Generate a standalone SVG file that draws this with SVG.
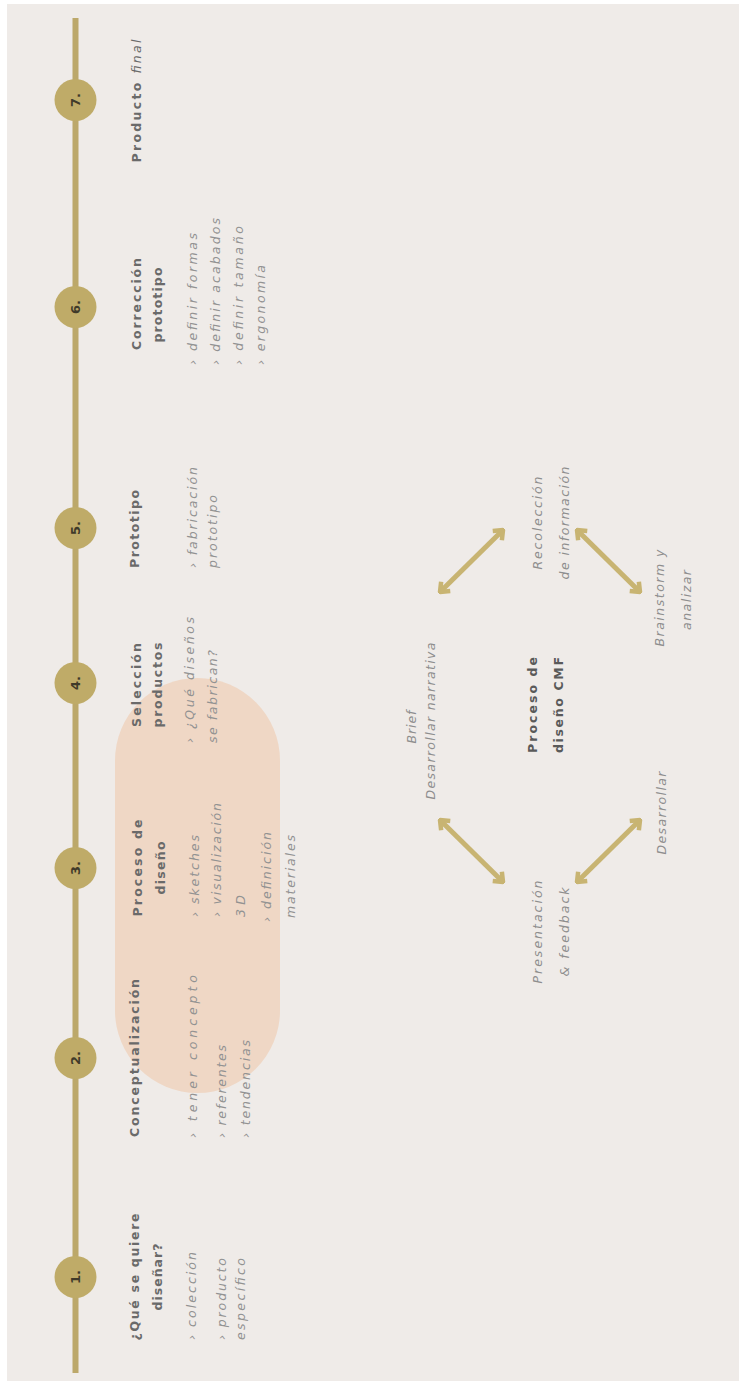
<svg xmlns="http://www.w3.org/2000/svg" width="739" height="1381" viewBox="0 0 739 1381">
  <defs>
    <style>
      .bg { fill: #efebe8; }
      .rail { fill: #bca86a; }
      .dot { fill: #bfab68; }
      .num { font-family: "DejaVu Sans", "Open Sans", sans-serif; font-size: 13px; font-weight: 700; fill: #3f3a2a; text-anchor: middle; }
      .title { font-family: "DejaVu Sans", "Open Sans", sans-serif; font-size: 12.5px; font-weight: 700; fill: #6a6a6a; text-anchor: middle; }
      .item { font-family: "DejaVu Sans", "Open Sans", sans-serif; font-size: 12.5px; font-style: italic; fill: #929292; text-anchor: start; }
      .label { font-family: "DejaVu Sans", "Open Sans", sans-serif; font-size: 12.5px; font-style: italic; fill: #8e8e8e; text-anchor: middle; }
      .core { font-family: "DejaVu Sans", "Open Sans", sans-serif; font-size: 12.5px; font-weight: 700; fill: #5a5a5a; text-anchor: middle; }
      .arrow { stroke: #c8b472; stroke-width: 5; fill: none; }
    </style>
    <marker id="head" viewBox="-12 -9 14 18" refX="0" refY="0" markerWidth="14" markerHeight="18" markerUnits="userSpaceOnUse" orient="auto-start-reverse">
      <path d="M-8,-6.5 L0,0 L-8,6.5" fill="none" stroke="#c8b472" stroke-width="4.5" stroke-linejoin="miter"/>
    </marker>
  </defs>

  <!-- page -->
  <rect x="0" y="0" width="739" height="1381" fill="#ffffff"/>
  <rect class="bg" x="7" y="4" width="732" height="1377"/>

  <!-- highlight band behind steps 2 to 4 -->
  <rect id="highlight" x="115" y="678" width="165" height="415" rx="82.5" ry="82.5" fill="#efd7c5"/>

  <!-- timeline rail -->
  <rect id="timeline" class="rail" x="72.5" y="18" width="6" height="1355"/>

  <!-- step 1 -->
  <g id="step-1">
    <circle class="dot" cx="75.5" cy="1277" r="21"/>
    <text class="num" transform="translate(80,1277) rotate(-90)">1.</text>
    <g transform="translate(0,1277) rotate(-90)">
      <text class="title" x="0" y="139" textLength="127" lengthAdjust="spacing">¿Qué se quiere</text>
      <text class="title" x="0" y="162" textLength="67" lengthAdjust="spacing">diseñar?</text>
      <text class="item" x="-63" y="196" textLength="88" lengthAdjust="spacing">› colección</text>
      <text class="item" x="-63" y="226" textLength="82" lengthAdjust="spacing">› producto</text>
      <text class="item" x="-63" y="245" textLength="82" lengthAdjust="spacing">específico</text>
    </g>
  </g>

  <!-- step 2 -->
  <g id="step-2">
    <circle class="dot" cx="75.5" cy="1058" r="21"/>
    <text class="num" transform="translate(80,1058) rotate(-90)">2.</text>
    <g transform="translate(0,1058) rotate(-90)">
      <text class="title" x="0" y="139" textLength="158" lengthAdjust="spacing">Conceptualización</text>
      <text class="item" x="-80" y="197" textLength="163" lengthAdjust="spacing">› tener concepto</text>
      <text class="item" x="-80" y="226" textLength="93" lengthAdjust="spacing">› referentes</text>
      <text class="item" x="-80" y="250" textLength="98" lengthAdjust="spacing">› tendencias</text>
    </g>
  </g>

  <!-- step 3 -->
  <g id="step-3">
    <circle class="dot" cx="75.5" cy="868" r="21"/>
    <text class="num" transform="translate(80,868) rotate(-90)">3.</text>
    <g transform="translate(0,868) rotate(-90)">
      <text class="title" x="0" y="142" textLength="97" lengthAdjust="spacing">Proceso de</text>
      <text class="title" x="0" y="165" textLength="53" lengthAdjust="spacing">diseño</text>
      <text class="item" x="-49" y="199" textLength="82" lengthAdjust="spacing">› sketches</text>
      <text class="item" x="-49" y="221" textLength="114" lengthAdjust="spacing">› visualización</text>
      <text class="item" x="-49" y="245" textLength="22" lengthAdjust="spacing">3D</text>
      <text class="item" x="-54" y="271" textLength="90" lengthAdjust="spacing">› definición</text>
      <text class="item" x="-50" y="295" textLength="83" lengthAdjust="spacing">materiales</text>
    </g>
  </g>

  <!-- step 4 -->
  <g id="step-4">
    <circle class="dot" cx="75.5" cy="683" r="21"/>
    <text class="num" transform="translate(80,683) rotate(-90)">4.</text>
    <g transform="translate(0,685) rotate(-90)">
      <text class="title" x="0" y="141" textLength="84" lengthAdjust="spacing">Selección</text>
      <text class="title" x="0" y="162" textLength="85" lengthAdjust="spacing">productos</text>
      <text class="item" x="-58" y="194" textLength="126" lengthAdjust="spacing">› ¿Qué diseños</text>
      <text class="item" x="-58" y="217" textLength="93" lengthAdjust="spacing">se fabrican?</text>
    </g>
  </g>

  <!-- step 5 -->
  <g id="step-5">
    <circle class="dot" cx="75.5" cy="528" r="21"/>
    <text class="num" transform="translate(80,528) rotate(-90)">5.</text>
    <g transform="translate(0,529) rotate(-90)">
      <text class="title" x="0" y="139" textLength="78" lengthAdjust="spacing">Prototipo</text>
      <text class="item" x="-39" y="197" textLength="101" lengthAdjust="spacing">› fabricación</text>
      <text class="item" x="-39" y="217" textLength="73" lengthAdjust="spacing">prototipo</text>
    </g>
  </g>

  <!-- step 6 -->
  <g id="step-6">
    <circle class="dot" cx="75.5" cy="307" r="21"/>
    <text class="num" transform="translate(80,307) rotate(-90)">6.</text>
    <g transform="translate(0,304) rotate(-90)">
      <text class="title" x="0" y="141" textLength="92" lengthAdjust="spacing">Corrección</text>
      <text class="title" x="-1" y="162" textLength="75" lengthAdjust="spacing">prototipo</text>
      <text class="item" x="-61" y="197" textLength="132" lengthAdjust="spacing">› definir formas</text>
      <text class="item" x="-61" y="220" textLength="147" lengthAdjust="spacing">› definir acabados</text>
      <text class="item" x="-61" y="243" textLength="139" lengthAdjust="spacing">› definir tamaño</text>
      <text class="item" x="-61" y="265" textLength="100" lengthAdjust="spacing">› ergonomía</text>
    </g>
  </g>

  <!-- step 7 -->
  <g id="step-7">
    <circle class="dot" cx="75.5" cy="100" r="21"/>
    <text class="num" transform="translate(80,100) rotate(-90)">7.</text>
    <g transform="translate(0,101) rotate(-90)">
      <text class="title" x="0" y="141" textLength="123" lengthAdjust="spacing">Producto <tspan font-style="italic" font-weight="400">final</tspan></text>
    </g>
  </g>

  <!-- CMF design cycle -->
  <g id="cmf-center" transform="translate(0,705) rotate(-90)">
    <text class="core" x="0" y="537" textLength="96" lengthAdjust="spacing">Proceso de</text>
    <text class="core" x="0" y="563" textLength="96" lengthAdjust="spacing">diseño CMF</text>
  </g>
  <g id="cmf-brief">
    <text class="label" transform="translate(0,727) rotate(-90)" x="0" y="416" textLength="33" lengthAdjust="spacing">Brief</text>
    <text class="label" transform="translate(0,721) rotate(-90)" x="0" y="435" textLength="157" lengthAdjust="spacing">Desarrollar narrativa</text>
  </g>
  <g id="cmf-recoleccion" transform="translate(0,523) rotate(-90)">
    <text class="label" x="0" y="542" textLength="93" lengthAdjust="spacing">Recolección</text>
    <text class="label" x="0" y="569" textLength="113" lengthAdjust="spacing">de información</text>
  </g>
  <g id="cmf-brainstorm">
    <text class="label" transform="translate(0,598) rotate(-90)" x="0" y="664" textLength="97" lengthAdjust="spacing">Brainstorm y</text>
    <text class="label" transform="translate(0,600) rotate(-90)" x="0" y="691" textLength="60" lengthAdjust="spacing">analizar</text>
  </g>
  <g id="cmf-desarrollar" transform="translate(0,813) rotate(-90)">
    <text class="label" x="0" y="666" textLength="83" lengthAdjust="spacing">Desarrollar</text>
  </g>
  <g id="cmf-presentacion" transform="translate(0,932) rotate(-90)">
    <text class="label" x="0" y="542" textLength="103" lengthAdjust="spacing">Presentación</text>
    <text class="label" x="0" y="569" textLength="89" lengthAdjust="spacing">&amp; feedback</text>
  </g>

  <!-- two-way arrows between the cycle stages -->
  <g id="connectors">
    <path class="arrow" d="M440,592 L503,530" marker-start="url(#head)" marker-end="url(#head)"/>
    <path class="arrow" d="M577,530 L640,592" marker-start="url(#head)" marker-end="url(#head)"/>
    <path class="arrow" d="M440,820 L503,882" marker-start="url(#head)" marker-end="url(#head)"/>
    <path class="arrow" d="M577,882 L640,820" marker-start="url(#head)" marker-end="url(#head)"/>
  </g>
</svg>
